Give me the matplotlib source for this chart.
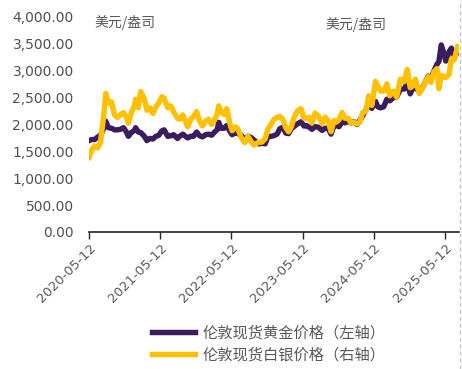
import numpy as np
import pandas as pd
import matplotlib
matplotlib.use("Agg")
import matplotlib.pyplot as plt
import matplotlib.dates as mdates
from matplotlib.lines import Line2D

plt.rcParams['font.family'] = ['DejaVu Sans', 'Noto Sans CJK SC']

# semi-monthly readings (USD/oz)
dates = [
    "2020-05-12", "2020-05-26", "2020-06-10", "2020-06-25", "2020-07-10", "2020-07-27",
    "2020-08-06", "2020-08-20", "2020-09-05", "2020-09-20", "2020-10-05", "2020-10-20",
    "2020-11-05", "2020-11-20", "2020-11-30", "2020-12-15", "2020-12-31", "2021-01-06",
    "2021-01-20", "2021-02-01", "2021-02-20", "2021-03-05", "2021-03-20", "2021-04-05",
    "2021-04-20", "2021-05-05", "2021-05-20", "2021-06-01", "2021-06-20", "2021-07-05",
    "2021-07-20", "2021-08-09", "2021-08-20", "2021-09-05", "2021-09-30", "2021-10-15",
    "2021-10-30", "2021-11-15", "2021-11-30", "2021-12-15", "2021-12-31", "2022-01-15",
    "2022-01-31", "2022-02-15", "2022-02-28", "2022-03-08", "2022-03-20", "2022-04-05",
    "2022-04-18", "2022-05-05", "2022-05-16", "2022-06-01", "2022-06-15", "2022-07-01",
    "2022-07-20", "2022-08-05", "2022-08-20", "2022-09-05", "2022-09-28", "2022-10-15",
    "2022-11-01", "2022-11-15", "2022-12-01", "2022-12-15", "2023-01-01", "2023-01-15",
    "2023-02-01", "2023-02-15", "2023-03-01", "2023-03-15", "2023-04-01", "2023-04-15",
    "2023-05-04", "2023-05-20", "2023-06-01", "2023-06-15", "2023-06-29", "2023-07-15",
    "2023-08-01", "2023-08-20", "2023-09-05", "2023-09-20", "2023-10-05", "2023-10-20",
    "2023-11-01", "2023-11-15", "2023-12-01", "2023-12-15", "2024-01-01", "2024-01-15",
    "2024-02-01", "2024-02-15", "2024-03-01", "2024-03-15", "2024-04-01", "2024-04-15",
    "2024-05-01", "2024-05-20", "2024-06-01", "2024-06-15", "2024-07-01", "2024-07-17",
    "2024-08-01", "2024-08-20", "2024-09-05", "2024-09-25", "2024-10-15", "2024-10-30",
    "2024-11-14", "2024-11-25", "2024-12-10", "2024-12-30", "2025-01-15", "2025-01-31",
    "2025-02-15", "2025-02-28", "2025-03-15", "2025-03-31", "2025-04-10", "2025-04-22",
    "2025-05-05", "2025-05-15", "2025-06-01", "2025-06-13", "2025-06-27", "2025-07-15",
]
gold = [
    1700, 1720, 1720, 1765, 1800, 1930,
    2060, 1940, 1930, 1900, 1900, 1910,
    1940, 1860, 1780, 1850, 1890, 1940,
    1860, 1850, 1780, 1700, 1740, 1730,
    1780, 1800, 1880, 1900, 1780, 1790,
    1810, 1740, 1780, 1820, 1750, 1780,
    1780, 1860, 1790, 1770, 1810, 1820,
    1800, 1860, 1900, 2040, 1930, 1930,
    1980, 1870, 1810, 1850, 1830, 1800,
    1710, 1780, 1760, 1710, 1640, 1650,
    1640, 1770, 1780, 1790, 1820, 1920,
    1950, 1840, 1830, 1920, 1970, 2010,
    2050, 1970, 1980, 1950, 1910, 1960,
    1950, 1890, 1930, 1930, 1820, 1980,
    1980, 1960, 2050, 2030, 2060, 2030,
    2050, 2000, 2080, 2160, 2270, 2380,
    2300, 2430, 2330, 2310, 2330, 2470,
    2440, 2500, 2510, 2660, 2660, 2780,
    2570, 2660, 2690, 2610, 2680, 2800,
    2900, 2860, 2990, 3120, 3170, 3480,
    3330, 3180, 3350, 3420, 3280, 3340,
]
silver = [
    15.6, 17.2, 18.0, 17.6, 18.8, 24.5,
    29.0, 27.0, 27.2, 24.5, 24.0, 24.5,
    25.0, 24.0, 22.8, 25.0, 26.4, 27.8,
    26.0, 29.4, 27.8, 25.5, 26.0, 24.8,
    26.2, 27.0, 28.3, 28.0, 26.0, 26.4,
    25.2, 23.8, 23.6, 24.5, 22.0, 23.5,
    24.2, 25.2, 23.2, 22.2, 23.2, 23.6,
    22.5, 23.5, 24.6, 26.4, 25.2, 24.6,
    25.8, 22.6, 21.2, 22.0, 21.5, 19.8,
    18.7, 20.0, 19.0, 18.2, 18.8, 18.8,
    19.5, 21.5, 22.5, 23.5, 24.0, 24.2,
    23.5, 21.8, 21.0, 22.0, 24.2, 25.3,
    25.8, 23.8, 23.8, 24.0, 22.8, 24.9,
    24.3, 22.7, 24.0, 23.3, 21.0, 23.3,
    23.0, 23.5, 25.0, 23.8, 23.8, 22.8,
    23.0, 22.6, 23.0, 25.0, 25.2, 28.5,
    26.5, 31.5, 30.5, 29.5, 29.5, 31.0,
    28.5, 29.5, 28.2, 32.0, 31.5, 34.0,
    30.2, 30.5, 32.0, 29.0, 30.0, 31.5,
    32.5, 31.3, 33.5, 34.2, 30.0, 32.8,
    32.5, 32.3, 33.0, 36.2, 36.0, 38.8,
]
tick_dates = ["2020-05-12", "2021-05-12", "2022-05-12", "2023-05-12", "2024-05-12", "2025-05-12"]
gold_label = "伦敦现货黄金价格（左轴）"
silver_label = "伦敦现货白银价格（右轴）"
unit = "美元/盎司"

d = pd.to_datetime(dates)
purple = "#3b1d5e"
yellow = "#ffc000"
grey = "#595959"

fig = plt.figure(figsize=(4.62, 3.69), dpi=100)
ax = fig.add_axes([0.1926, 0.3713, 0.8009, 0.5827])
ax2 = ax.twinx()

ax.plot(d, gold, color=purple, lw=3.9, zorder=2)
ax2.plot(d, silver, color=yellow, lw=3.9, zorder=3)

ax.set_ylim(0, 4000)
ax2.set_ylim(0, 45)
ax.set_xlim(pd.Timestamp("2020-05-12"), pd.Timestamp("2025-07-22"))
ax.set_yticks(np.arange(0, 4001, 500))
ax.set_yticklabels([f"{v:,.2f}" for v in np.arange(0, 4001, 500)], fontsize=10, color="#505050")
ax.tick_params(axis="y", length=0, pad=11)

ax.set_xticks(pd.to_datetime(tick_dates))
ax.xaxis.set_major_formatter(mdates.DateFormatter("%Y-%m-%d"))
ax.tick_params(axis="x", direction="out", length=5, width=1, color="#222222", labelsize=9.5,
               labelcolor=grey, pad=2)
for lab in ax.get_xticklabels():
    lab.set_rotation(45)
    lab.set_ha("right")
    lab.set_rotation_mode("anchor")

for s in ["top", "right", "left"]:
    ax.spines[s].set_visible(False)
    ax2.spines[s].set_visible(False)
ax2.spines["bottom"].set_visible(False)
ax.spines["bottom"].set_color("#222222")
ax.spines["bottom"].set_linewidth(1.2)
ax2.set_yticks([])

ax.text(0.015, 1.01, unit, transform=ax.transAxes, fontsize=10, color=grey,
        family=["Noto Sans CJK SC"], va="top", ha="left")
ax.text(0.64, 1.0, unit, transform=ax.transAxes, fontsize=10, color=grey,
        family=["Noto Sans CJK SC"], va="top", ha="left")

handles = [Line2D([], [], color=purple, lw=3.9), Line2D([], [], color=yellow, lw=3.9)]
leg = fig.legend(handles, [gold_label, silver_label], loc="upper left",
                 bbox_to_anchor=(138 / 462, 1 - 311 / 369), frameon=False,
                 prop={"family": ["Noto Sans CJK SC"], "size": 11},
                 handlelength=2.8, handletextpad=0.5, labelspacing=0.3)
for t in leg.get_texts():
    t.set_color(grey)

fig.add_artist(Line2D([460 / 462, 460 / 462], [0, 1], transform=fig.transFigure,
                      color="#c8c8c8", lw=1, ls=(0, (3, 2))))

fig.savefig("out.png", dpi=100)
